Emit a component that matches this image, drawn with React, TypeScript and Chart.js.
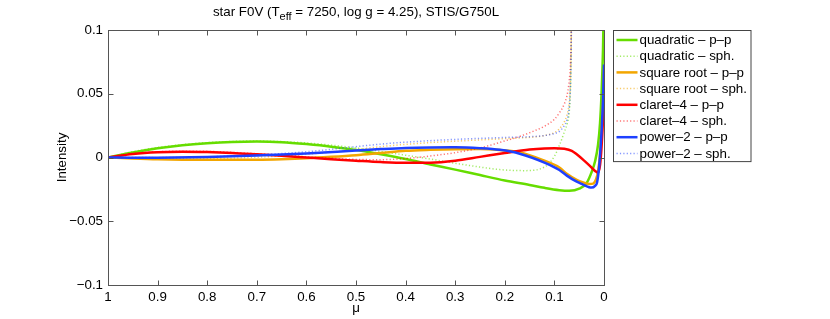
import React, { useEffect, useRef } from "react";
import { Chart, registerables } from "chart.js";
Chart.register(...registerables);

// ---------- text ----------
const TITLE_PRE = "star F0V (T";
const TITLE_SUB = "eff";
const TITLE_POST = " = 7250, log g = 4.25), STIS/G750L";
const X_LABEL = "μ";
const Y_LABEL = "Intensity";
const X_MIN = 0;
const X_MAX = 1;
const X_STEP = 0.1;
const Y_MIN = -0.1;
const Y_MAX = 0.1;
const Y_STEP = 0.05;

const LABELS = [
  "quadratic – p–p",
  "quadratic – sph.",
  "square root – p–p",
  "square root – sph.",
  "claret–4 – p–p",
  "claret–4 – sph.",
  "power–2 – p–p",
  "power–2 – sph.",
];

// ---------- data (mu, residual intensity) ----------
const MU_QUAD_PP = [1, 0.95, 0.9, 0.85, 0.8, 0.75, 0.7, 0.65, 0.6, 0.55, 0.5, 0.45, 0.4, 0.35, 0.3, 0.25, 0.2, 0.15, 0.12, 0.09, 0.07, 0.05, 0.035, 0.025, 0.018, 0.012, 0.008, 0.005, 0.002, 0];
const I_QUAD_PP = [0, 0.004, 0.0072, 0.0096, 0.0112, 0.0122, 0.0125, 0.012, 0.0105, 0.0085, 0.0058, 0.0025, -0.0012, -0.0055, -0.0095, -0.0138, -0.018, -0.0215, -0.0238, -0.0256, -0.0261, -0.0245, -0.02, -0.0115, -0.003, 0.01, 0.027, 0.05, 0.085, 0.13];

const MU_QUAD_SPH = [1, 0.95, 0.9, 0.85, 0.8, 0.75, 0.7, 0.65, 0.6, 0.55, 0.5, 0.45, 0.4, 0.35, 0.3, 0.25, 0.21, 0.16, 0.12, 0.1, 0.09, 0.08, 0.074, 0.07, 0.068, 0.0665, 0.0655];
const I_QUAD_SPH = [0, 0.0045, 0.0078, 0.0101, 0.0117, 0.0126, 0.0129, 0.0125, 0.0114, 0.0097, 0.0075, 0.0048, 0.0018, -0.0012, -0.0045, -0.0075, -0.0095, -0.0103, -0.0075, 0.001, 0.0095, 0.02, 0.027, 0.036, 0.05, 0.075, 0.15];

const MU_SQRT_PP = [1, 0.95, 0.9, 0.8, 0.7, 0.65, 0.6, 0.55, 0.5, 0.45, 0.4, 0.35, 0.3, 0.25, 0.21, 0.17, 0.12, 0.09, 0.075, 0.055, 0.042, 0.03, 0.022, 0.016, 0.012, 0.008, 0.005, 0.002, 0];
const I_SQRT_PP = [0, -0.0008, -0.0014, -0.0018, -0.0017, -0.0013, -0.0006, 0.0005, 0.0018, 0.0035, 0.0052, 0.006, 0.0065, 0.0066, 0.0058, 0.0042, -0.0025, -0.0078, -0.0128, -0.0175, -0.0195, -0.0208, -0.0205, -0.017, -0.011, 0.002, 0.02, 0.045, 0.07];

const MU_SQRT_SPH = [1, 0.9, 0.8, 0.7, 0.6, 0.5, 0.45, 0.4, 0.35, 0.3, 0.25, 0.2, 0.15, 0.12, 0.1, 0.09, 0.08, 0.075, 0.071, 0.069, 0.0675, 0.066, 0.065];
const I_SQRT_SPH = [0, -0.0008, -0.0008, 0.0002, 0.0025, 0.0062, 0.0085, 0.0103, 0.0117, 0.0128, 0.0138, 0.0148, 0.0158, 0.0172, 0.0195, 0.0225, 0.028, 0.033, 0.04, 0.048, 0.062, 0.09, 0.15];

const MU_CLAR_PP = [1, 0.95, 0.9, 0.85, 0.8, 0.75, 0.7, 0.65, 0.6, 0.55, 0.5, 0.45, 0.4, 0.35, 0.3, 0.25, 0.2, 0.15, 0.12, 0.1, 0.08, 0.065, 0.055, 0.04, 0.028, 0.018, 0.012, 0.008, 0.005, 0.002, 0];
const I_CLAR_PP = [0, 0.0028, 0.0042, 0.0046, 0.0043, 0.0036, 0.0025, 0.0013, 0, -0.0013, -0.0025, -0.0036, -0.0042, -0.0041, -0.0025, 0.0005, 0.0035, 0.0062, 0.0071, 0.0073, 0.0068, 0.0052, 0.0025, -0.0025, -0.0068, -0.0105, -0.0118, -0.006, 0.008, 0.03, 0.05];

const MU_CLAR_SPH = [1, 0.95, 0.9, 0.85, 0.8, 0.7, 0.6, 0.5, 0.45, 0.4, 0.35, 0.3, 0.25, 0.2, 0.17, 0.14, 0.12, 0.1, 0.09, 0.08, 0.075, 0.071, 0.069, 0.0675, 0.066, 0.065];
const I_CLAR_SPH = [0, 0.003, 0.0045, 0.005, 0.0048, 0.003, 0.0005, -0.0015, -0.0017, -0.0008, 0.0012, 0.0038, 0.0075, 0.013, 0.0165, 0.021, 0.0245, 0.03, 0.035, 0.042, 0.048, 0.057, 0.065, 0.075, 0.1, 0.15];

const MU_POW_PP = [1, 0.95, 0.9, 0.8, 0.7, 0.6, 0.5, 0.45, 0.4, 0.35, 0.3, 0.25, 0.21, 0.17, 0.12, 0.09, 0.075, 0.055, 0.042, 0.03, 0.025, 0.018, 0.014, 0.01, 0.008, 0.005, 0.002, 0];
const I_POW_PP = [0, -0.0002, -0.0001, 0.0004, 0.0015, 0.0032, 0.0055, 0.0066, 0.0075, 0.0079, 0.008, 0.0073, 0.006, 0.003, -0.004, -0.0098, -0.0142, -0.019, -0.0212, -0.0233, -0.0236, -0.0222, -0.0196, -0.008, 0.002, 0.02, 0.045, 0.073];

const MU_POW_SPH = [1, 0.9, 0.8, 0.7, 0.6, 0.5, 0.45, 0.4, 0.35, 0.3, 0.25, 0.2, 0.15, 0.12, 0.1, 0.09, 0.08, 0.075, 0.071, 0.069, 0.0675, 0.066, 0.065];
const I_POW_SPH = [0, -0.0001, 0.0005, 0.002, 0.0045, 0.0085, 0.0105, 0.012, 0.0132, 0.0142, 0.015, 0.0157, 0.0163, 0.0172, 0.0188, 0.0205, 0.025, 0.029, 0.036, 0.045, 0.06, 0.09, 0.15];

const MUS = [MU_QUAD_PP, MU_QUAD_SPH, MU_SQRT_PP, MU_SQRT_SPH, MU_CLAR_PP, MU_CLAR_SPH, MU_POW_PP, MU_POW_SPH];
const VALS = [I_QUAD_PP, I_QUAD_SPH, I_SQRT_PP, I_SQRT_SPH, I_CLAR_PP, I_CLAR_SPH, I_POW_PP, I_POW_SPH];

// ---------- style ----------
const FONT = '"Liberation Sans", Arial, Helvetica, sans-serif';
const FS = 13.33;
const COLORS = ["rgb(102,221,0)", "rgb(243,166,0)", "rgb(255,0,0)", "rgb(30,64,255)"];
const DOT_COLORS = ["rgba(102,221,0,0.6)", "rgba(243,166,0,0.6)", "rgba(255,0,0,0.55)", "rgba(30,64,255,0.55)"];
const AXIS_COLOR = "#555";

const fmt = (v: number) => {
  if (Math.abs(v) < 1e-9) return "0";
  const s = parseFloat(Math.abs(v).toFixed(3)).toString();
  return (v < 0 ? "\u2212" : "") + s;
};

const decorPlugin = {
  id: "decor",
  afterDraw(chart: any) {
    const { ctx, chartArea: a, scales } = chart;
    const xs = scales.x;
    const ys = scales.y;
    ctx.save();
    // box
    ctx.strokeStyle = AXIS_COLOR;
    ctx.lineWidth = 1;
    const L = Math.round(a.left) + 0.5;
    const R = Math.round(a.right) + 0.5;
    const T = Math.round(a.top) + 0.5;
    const B = Math.round(a.bottom) + 0.5;
    ctx.strokeRect(L, T, R - L, B - T);
    // inward ticks
    const tl = 5;
    ctx.beginPath();
    xs.ticks.forEach((t: any) => {
      const px = Math.round(xs.getPixelForValue(t.value)) + 0.5;
      ctx.moveTo(px, B); ctx.lineTo(px, B - tl);
      ctx.moveTo(px, T); ctx.lineTo(px, T + tl);
    });
    ys.ticks.forEach((t: any) => {
      const py = Math.round(ys.getPixelForValue(t.value)) + 0.5;
      ctx.moveTo(L, py); ctx.lineTo(L + tl, py);
      ctx.moveTo(R, py); ctx.lineTo(R - tl, py);
    });
    ctx.stroke();

    // title with subscript
    const subFont = `11px ${FONT}`;
    const mainFont = `${FS}px ${FONT}`;
    ctx.fillStyle = "#000";
    ctx.textBaseline = "alphabetic";
    ctx.textAlign = "left";
    ctx.font = mainFont;
    const w1 = ctx.measureText(TITLE_PRE).width;
    const w3 = ctx.measureText(TITLE_POST).width;
    ctx.font = subFont;
    const w2 = ctx.measureText(TITLE_SUB).width;
    const total = w1 + w2 + w3;
    let x = (a.left + a.right) / 2 - total / 2;
    const base = 16;
    ctx.font = mainFont;
    ctx.fillText(TITLE_PRE, x, base);
    x += w1;
    ctx.font = subFont;
    ctx.fillText(TITLE_SUB, x, base + 4);
    x += w2;
    ctx.font = mainFont;
    ctx.fillText(TITLE_POST, x, base);

    // legend
    const lx = a.right + 9;
    const ly = a.top;
    const rowH = 16.2;
    const lw = 137.5;
    const lh = rowH * LABELS.length + 1.5;
    ctx.fillStyle = "#fff";
    ctx.fillRect(Math.round(lx) + 0.5, Math.round(ly) + 0.5, lw, lh);
    ctx.strokeStyle = "#444";
    ctx.lineWidth = 1;
    ctx.strokeRect(Math.round(lx) + 0.5, Math.round(ly) + 0.5, lw, lh);
    chart.data.datasets.forEach((ds: any, i: number) => {
      const cy = ly + 10 + i * rowH;
      ctx.beginPath();
      ctx.strokeStyle = ds.borderColor;
      ctx.lineWidth = ds.borderWidth;
      ctx.setLineDash(ds.borderDash || []);
      ctx.moveTo(lx + 3.5, cy);
      ctx.lineTo(lx + 24.5, cy);
      ctx.stroke();
      ctx.setLineDash([]);
      ctx.fillStyle = "#000";
      ctx.font = mainFont;
      ctx.textBaseline = "middle";
      ctx.fillText(ds.label, lx + 26.5, cy + 0.5);
    });
    ctx.restore();
  },
};

export default function App() {
  const ref = useRef<HTMLCanvasElement | null>(null);
  useEffect(() => {
    if (!ref.current) return;
    const datasets = LABELS.map((label, i) => {
      const c = Math.floor(i / 2);
      const dotted = i % 2 === 1;
      return {
        label,
        data: MUS[i].map((m, k) => ({ x: m, y: VALS[i][k] })),
        borderColor: dotted ? DOT_COLORS[c] : COLORS[c],
        borderWidth: dotted ? 1.5 : 2.5,
        borderDash: dotted ? [1.2, 2.2] : [],
        pointRadius: 0,
        fill: false,
        cubicInterpolationMode: "monotone" as const,
        order: LABELS.length - 1 - i,
      };
    });
    const chart = new Chart(ref.current, {
      type: "line",
      data: { datasets },
      options: {
        animation: false,
        responsive: false,
        devicePixelRatio: 1,
        layout: { padding: { left: 0, top: 30, right: 226, bottom: 0 } },
        plugins: { legend: { display: false }, title: { display: false }, tooltip: { enabled: false } },
        scales: {
          x: {
            type: "linear",
            reverse: true,
            min: X_MIN,
            max: X_MAX,
            grid: { display: false, drawTicks: false },
            border: { display: false },
            ticks: {
              stepSize: X_STEP,
              padding: 4,
              color: "#000",
              font: { family: FONT, size: FS },
              maxRotation: 0,
              autoSkip: false,
              callback: (v: any) => fmt(Number(v)),
            },
            title: {
              display: true,
              text: X_LABEL,
              color: "#000",
              font: { family: FONT, size: FS },
              padding: { top: 0, bottom: 3 },
            },
            afterFit: (s: any) => { s.height = 34; },
          },
          y: {
            type: "linear",
            min: Y_MIN,
            max: Y_MAX,
            grid: { display: false, drawTicks: false },
            border: { display: false },
            ticks: {
              stepSize: Y_STEP,
              padding: 5,
              color: "#000",
              font: { family: FONT, size: FS },
              autoSkip: false,
              callback: (v: any) => fmt(Number(v)),
            },
            title: {
              display: true,
              text: Y_LABEL,
              color: "#000",
              font: { family: FONT, size: FS },
              padding: { top: 54, bottom: 0 },
            },
            afterFit: (s: any) => { s.width = 108; },
          },
        },
      },
      plugins: [decorPlugin],
    });
    return () => chart.destroy();
  }, []);
  return (
    <div style={{ position: "fixed", left: 0, top: 0, width: 830, height: 319, background: "#fff" }}>
      <canvas ref={ref} width={830} height={319} />
    </div>
  );
}
